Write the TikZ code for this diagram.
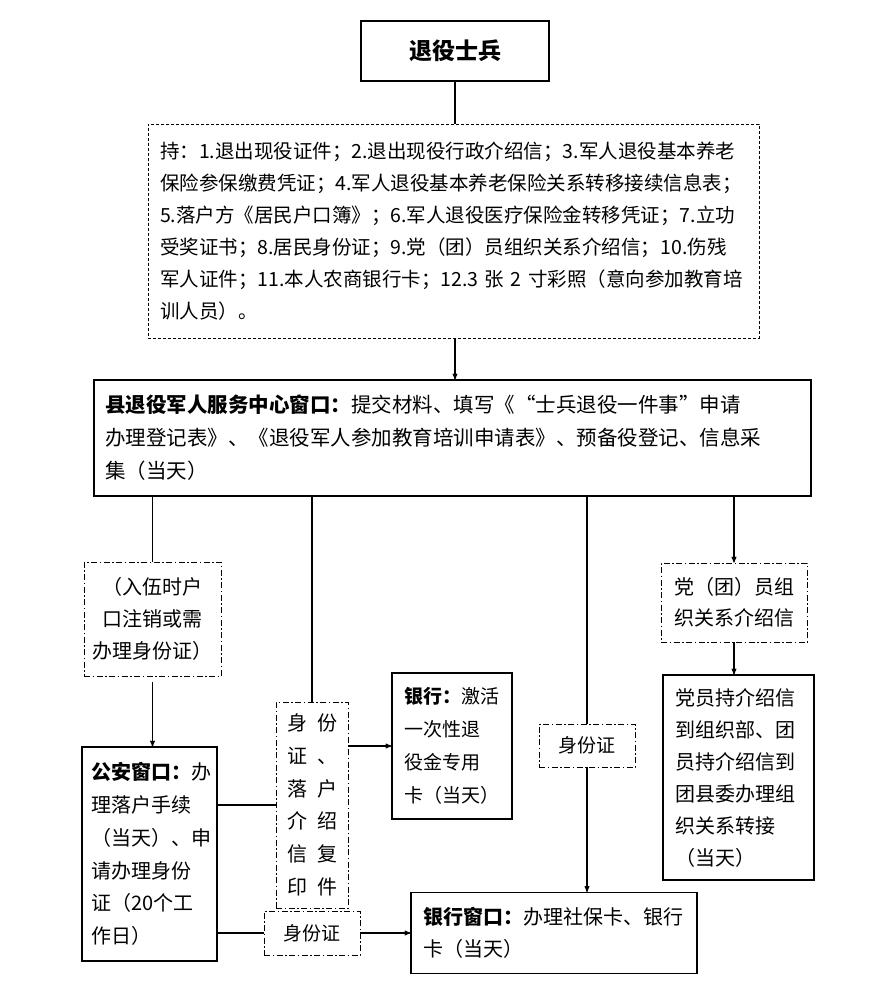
\documentclass[tikz,border=0pt]{standalone}
\usepackage{fontspec}
\setmainfont{Noto Sans CJK SC}
\usetikzlibrary{arrows}
\newcommand{\fsz}[2]{\fontsize{#1}{#2}\selectfont}
\tikzset{>=stealth'}
\tikzset{sbox/.style={draw, line width=1.1pt, inner ysep=0pt, inner xsep=11pt, align=left}}
\tikzset{dbox/.style={sbox, line width=0.9pt, dash pattern=on 3pt off 2pt}}
\tikzset{ddbox/.style={sbox, line width=0.9pt, dash pattern=on 6pt off 2.5pt on 1.5pt off 2.5pt}}
\tikzset{ln/.style={line width=1.1pt}}

\begin{document}
\begin{tikzpicture}[x=1pt,y=-1pt]
\useasboundingbox (0,0) rectangle (877,987);

\node[sbox, align=center, inner sep=0pt, minimum width=188pt, minimum height=60pt, font=\fsz{23}{28}\bfseries] (title) at (455,51) {退役士兵};

\node[dbox, inner xsep=12pt, text width=587pt, minimum height=214pt, font=\fsz{19.5}{32}] (list) at (453.5,231) {持：1.退出现役证件；2.退出现役行政介绍信；3.军人退役基本养老\\保险参保缴费凭证；4.军人退役基本养老保险关系转移接续信息表；\\5.落户方《居民户口簿》；6.军人退役医疗保险金转移凭证；7.立功\\受奖证书；8.居民身份证；9.党（团）员组织关系介绍信；10.伤残\\军人证件；11.本人农商银行卡；12.3 张 2 寸彩照（意向参加教育培\\训人员）。};

\node[sbox, inner xsep=11pt, text width=695pt, minimum height=116pt, font=\fsz{20.5}{33}] (main) at (452.5,438) {\textbf{县退役军人服务中心窗口：}提交材料、填写《“士兵退役一件事”申请\\办理登记表》、《退役军人参加教育培训申请表》、预备役登记、信息采\\集（当天）};

\node[ddbox, align=center, inner xsep=4pt, text width=129pt, minimum height=114pt, font=\fsz{20}{32}] (note) at (152.5,619) {（入伍时户\\口注销或需\\办理身份证）};

\node[sbox, inner xsep=9pt, text width=117pt, minimum height=214pt, font=\fsz{20}{32.7}] (police) at (149.5,854) {\textbf{公安窗口：}办\\理落户手续\\（当天）、申\\请办理身份\\证（20个工\\作日）};

\node[ddbox, align=center, inner xsep=2pt, text width=68pt, minimum height=206pt, font=\fsz{20}{32.7}] (copy) at (312,805) {身\enspace 份\\证\enspace 、\\落\enspace 户\\介\enspace 绍\\信\enspace 复\\印\enspace 件};

\node[sbox, inner xsep=12pt, text width=96pt, minimum height=146pt, font=\fsz{19}{33}] (bank) at (452,746) {\textbf{银行：}激活\\一次性退\\役金专用\\卡（当天）};

\node[ddbox, align=center, inner xsep=2pt, text width=92pt, minimum height=43pt, font=\fsz{19}{24}] (idmid) at (587,745.5) {身份证};

\node[ddbox, align=center, inner xsep=2pt, text width=142pt, minimum height=79pt, font=\fsz{20}{31}] (partynote) at (734,602.5) {党（团）员组\\织关系介绍信};

\node[sbox, inner xsep=12pt, text width=127pt, minimum height=205pt, font=\fsz{20}{32}] (party) at (738.5,777.5) {党员持介绍信\\到组织部、团\\员持介绍信到\\团县委办理组\\织关系转接\\（当天）};

\node[sbox, inner xsep=12pt, text width=262pt, minimum height=81pt, font=\fsz{20}{32}] (bankwin) at (554,933) {\textbf{银行窗口：}办理社保卡、银行\\卡（当天）};

\node[ddbox, align=center, inner xsep=2pt, text width=92pt, minimum height=44pt, font=\fsz{19}{24}] (idbot) at (312,933) {身份证};

\draw[ln] (title.south) -- (title.south |- list.north);
\draw[ln,->] (list.south -| title) -- (main.north -| title);

\draw[ln] (main.south -| note) -- (note.north);
\draw[ln] (main.south -| copy) -- (copy.north);
\draw[ln] (main.south -| idmid) -- (idmid.north);
\draw[ln,->] (main.south -| partynote) -- (partynote.north);

\draw[ln,->,shorten <=6pt] (note.south) -- (note.south |- police.north);
\draw[ln] (copy.west -| police.east) -- (copy.west);
\draw[ln,->] (bank.west -| copy.east) -- (bank.west);
\draw[ln,->] (idmid.south) -- (idmid.south |- bankwin.north);
\draw[ln,->] (partynote.south) -- (partynote.south |- party.north);
\draw[ln] (idbot.west -| police.east) -- (idbot.west);
\draw[ln,->] (idbot.east) -- (bankwin.west);
\end{tikzpicture}
\end{document}
